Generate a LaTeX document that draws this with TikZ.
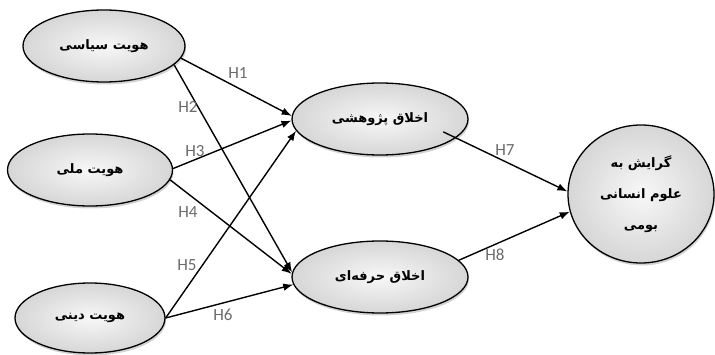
\documentclass[tikz,border=0pt]{standalone}
\usepackage{fontspec}
\setmainfont{Carlito}
\newfontfamily\farsifont[Script=Arabic]{DejaVu Sans}
\TeXXeTstate=1
\usetikzlibrary{arrows.meta,shapes.geometric,shadows}

\tikzset{
  construct/.style={ellipse, draw, line width=1.3pt, inner sep=0pt,
    inner color=gray!6, outer color=gray!32,
    drop shadow={shadow xshift=1pt, shadow yshift=-2.5pt, opacity=0.35},
    font=\farsifont\bfseries\fontsize{13}{31}\selectfont, align=center},
  hypo/.style={-{Latex[length=10pt,width=7.5pt]}, line width=1.4pt},
  hlabel/.style={text=black!58, font=\fontsize{17}{20}\selectfont}
}

\begin{document}
\begin{tikzpicture}[x=1pt, y=-1pt]
  %% Keep the page the size of the original figure.
  \useasboundingbox (0,0) rectangle (715,355);

  %% Independent constructs on the left.
  \node[construct, minimum width=162, minimum height=72] (siasi) at (104,46) {\beginR هویت سیاسی\endR};
  \node[construct, minimum width=165, minimum height=72] (melli) at (90,170) {\beginR هویت ملی\endR};
  \node[construct, minimum width=150, minimum height=70] (dini) at (90,318) {\beginR هویت دینی\endR};

  %% Mediating constructs.
  \node[construct, minimum width=176, minimum height=72] (pazhuhesh) at (380,119) {\beginR اخلاق پژوهشی\endR};
  \node[construct, minimum width=176, minimum height=72] (herfe) at (380,277) {\beginR اخلاق حرفه‌ای\endR};

  %% Dependent construct.
  \node[construct, minimum width=146, minimum height=138] (gerayesh) at (641,194)
    {\beginR گرایش به\endR\\ \beginR علوم انسانی\endR\\ \beginR بومی\endR};

  %% Hypotheses H1 ... H6.
  \draw[hypo] (siasi.-9) -- (pazhuhesh.178);
  \draw[hypo] (siasi.-15) -- (herfe.177);
  \draw[hypo] (melli.1) -- (pazhuhesh.181);
  \draw[hypo] (melli.-7) -- (herfe.178);
  \draw[hypo] (dini.east) -- (pazhuhesh.188);
  \draw[hypo] (dini.east) -- (herfe.185);

  %% Hypotheses H7 and H8.
  \draw[hypo, shorten <=-14pt] (pazhuhesh.-14) -- (gerayesh.178);
  \draw[hypo] (herfe.12) -- (gerayesh.194);

  %% Labels of the paths.
  \node[hlabel] (h1) at (238,73) {H1};
  \node[hlabel] (h2) at (188,107) {H2};
  \node[hlabel] (h3) at (195,151) {H3};
  \node[hlabel] (h4) at (188,212) {H4};
  \node[hlabel] (h5) at (187,265) {H5};
  \node[hlabel] (h6) at (223,315) {H6};
  \node[hlabel] (h7) at (505,150) {H7};
  \node[hlabel] (h8) at (495,255) {H8};
\end{tikzpicture}
\end{document}
